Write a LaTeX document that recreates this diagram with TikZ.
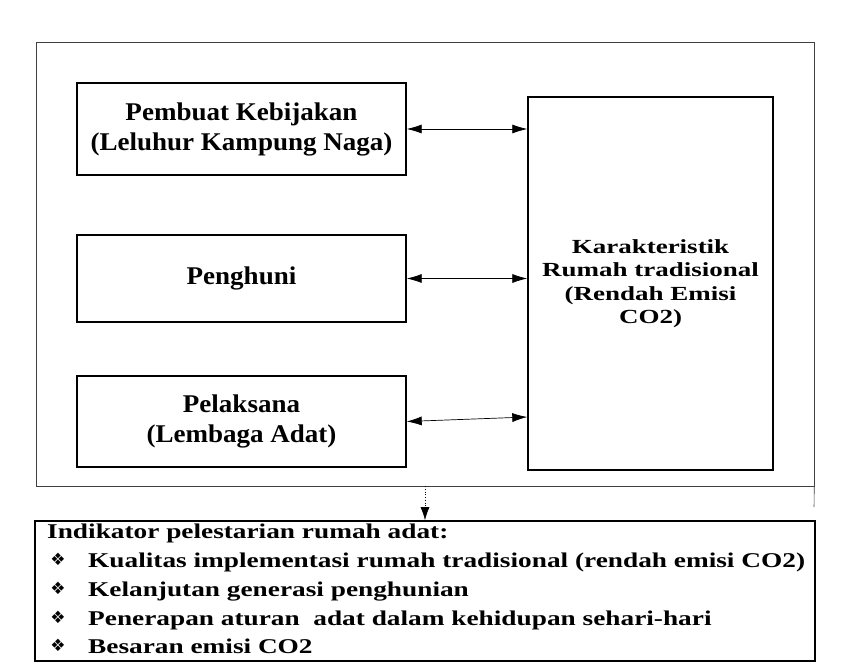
\documentclass[tikz,border=0pt]{standalone}
\usepackage{fontspec}
\setmainfont{Liberation Serif}
\newfontfamily\leftfont[FakeStretch=1.06]{Liberation Serif}
\newfontfamily\bigfont[FakeStretch=1.35]{Liberation Serif}
\newfontfamily\botfont[FakeStretch=1.3]{Liberation Serif}
\newfontfamily\symfont{DejaVu Sans}
\usetikzlibrary{arrows.meta,calc}
\tikzset{
  box/.style={draw, line width=1.4pt, inner sep=0pt, align=center},
  leftbox/.style={box, minimum width=329pt, font=\leftfont\bfseries\fontsize{25.5}{30}\selectfont},
  bigbox/.style={box, minimum width=245pt, minimum height=373pt, font=\bigfont\bfseries\fontsize{20}{23.5}\selectfont},
  frame/.style={draw, line width=0.6pt, black!75, inner sep=0pt, minimum width=778pt, minimum height=444pt},
  botbox/.style={draw, line width=1.6pt, inner sep=0pt, minimum width=780pt, minimum height=140pt},
  bottxt/.style={anchor=base west, inner sep=0pt, font=\botfont\bfseries\fontsize{21}{25}\selectfont},
  bul/.style={anchor=base, inner sep=0pt, font=\symfont\fontsize{17}{19}\selectfont},
  link/.style={line width=0.7pt, {Latex[length=15pt,width=9pt]}-{Latex[length=15pt,width=9pt]}},
  down/.style={line width=0.7pt, dotted, -{Latex[length=13pt,width=9pt]}}
}
\begin{document}
\begin{tikzpicture}[x=1pt,y=-1pt]
\useasboundingbox (0,0) rectangle (843,668);
\node[frame] (fr) at (425,264) {};
\coordinate (frx) at (814,507);
\draw[line width=0.6pt, black!75] (fr.south east) -- (frx);
\node[leftbox, minimum height=92pt] (b1) at (241.5,129) {Pembuat Kebijakan\\(Leluhur Kampung Naga)};
\node[leftbox, minimum height=87pt] (b2) at (241.5,278.5) {Penghuni};
\node[leftbox, minimum height=91pt] (b3) at (241.5,421.5) {Pelaksana\\(Lembaga Adat)};
\node[bigbox] (big) at (650.5,283.5) {Karakteristik\\Rumah tradisional\\(Rendah Emisi\\CO2)};
\draw[link] (b1.east) -- (b1.east -| big.west);
\draw[link] (b2.east) -- (b2.east -| big.west);
\draw[link] (b3.east) -- ($(b3.east -| big.west)+(0,-4.5)$);
\node[botbox] (bot) at (425,591) {};
\draw[down] (fr.south) -- (bot.north);
\node[bottxt] (t0) at (47,538) {Indikator pelestarian rumah adat:};
\node[bul] (u1) at (58,565) {❖};
\node[bul] (u2) at (58,594) {❖};
\node[bul] (u3) at (58,623) {❖};
\node[bul] (u4) at (58,651) {❖};
\node[bottxt] (t1) at (88,567) {Kualitas implementasi rumah tradisional (rendah emisi CO2)};
\node[bottxt] (t2) at (88,596) {Kelanjutan generasi penghunian};
\node[bottxt] (t3) at (88,625) {Penerapan aturan\ \ adat dalam kehidupan sehari-hari};
\node[bottxt] (t4) at (88,653) {Besaran emisi CO2};
\end{tikzpicture}
\end{document}
